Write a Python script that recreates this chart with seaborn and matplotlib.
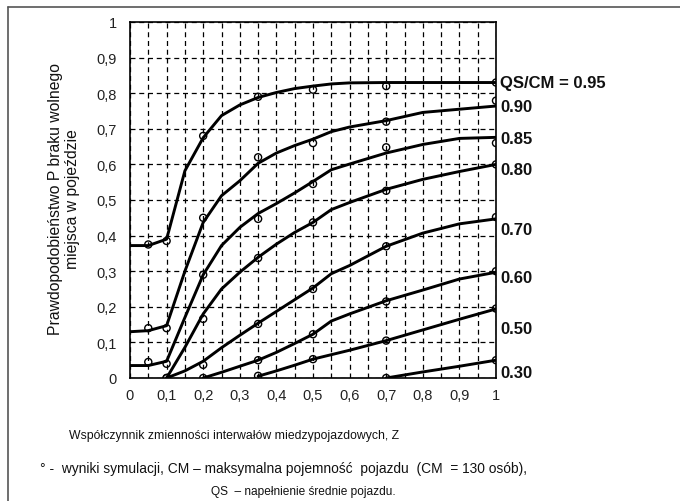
import numpy as np
import pandas as pd
import matplotlib
matplotlib.use("Agg")
import matplotlib.pyplot as plt
from matplotlib.lines import Line2D
import seaborn as sns

# ---------------- data ----------------
series_labels = ["QS/CM = 0.95", "0.90", "0.85", "0.80", "0.70", "0.60", "0.50", "0.30"]

# smoothed model curves
z_a = [0, 0.05, 0.1, 0.15, 0.2, 0.25, 0.3, 0.35, 0.4, 0.45, 0.5, 0.55, 0.6, 0.7, 0.8, 0.9, 1.0]
p95_line = [0.372, 0.372, 0.39, 0.582, 0.675, 0.737, 0.767, 0.788, 0.802, 0.813, 0.82, 0.826, 0.829, 0.83, 0.83, 0.83, 0.83]
p90_line = [0.13, 0.133, 0.147, 0.30, 0.437, 0.512, 0.554, 0.603, 0.632, 0.653, 0.671, 0.692, 0.705, 0.723, 0.746, 0.755, 0.764]
p85_line = [0.035, 0.035, 0.047, 0.17, 0.29, 0.372, 0.423, 0.462, 0.49, 0.52, 0.552, 0.585, 0.601, 0.632, 0.656, 0.673, 0.676]

z_b = [0.1, 0.15, 0.2, 0.25, 0.3, 0.35, 0.4, 0.45, 0.5, 0.55, 0.6, 0.7, 0.8, 0.9, 1.0]
p80_line = [0, 0.086, 0.18, 0.25, 0.297, 0.339, 0.376, 0.409, 0.437, 0.473, 0.493, 0.53, 0.558, 0.58, 0.60]
p70_line = [0, 0.02, 0.047, 0.085, 0.12, 0.154, 0.187, 0.22, 0.253, 0.293, 0.316, 0.37, 0.407, 0.433, 0.447]

z_c = [0.2, 0.25, 0.3, 0.35, 0.4, 0.45, 0.5, 0.55, 0.6, 0.7, 0.8, 0.9, 1.0]
p60_line = [0, 0.016, 0.033, 0.05, 0.072, 0.097, 0.123, 0.16, 0.18, 0.217, 0.247, 0.278, 0.297]

z_d = [0.35, 0.4, 0.45, 0.5, 0.6, 0.7, 0.8, 0.9, 1.0]
p50_line = [0.005, 0.02, 0.036, 0.053, 0.078, 0.105, 0.135, 0.165, 0.194]

z_e = [0.7, 0.8, 0.9, 1.0]
p30_line = [0, 0.017, 0.033, 0.05]

# simulation results (open circles)
zs_a = [0.05, 0.1, 0.2, 0.35, 0.5, 0.7, 1.0]
p95_sim = [0.375, 0.385, 0.68, 0.79, 0.81, 0.82, 0.83]
p90_sim = [0.14, 0.14, 0.45, 0.62, 0.66, 0.72, 0.779]
p85_sim = [0.045, 0.04, 0.29, 0.447, 0.545, 0.648, 0.66]
zs_b = [0.1, 0.2, 0.35, 0.5, 0.7, 1.0]
p80_sim = [0.0, 0.166, 0.337, 0.437, 0.526, 0.60]
p70_sim = [0.0, 0.037, 0.152, 0.25, 0.37, 0.452]
zs_c = [0.2, 0.35, 0.5, 0.7, 1.0]
p60_sim = [0.0, 0.05, 0.123, 0.215, 0.30]
zs_d = [0.35, 0.5, 0.7, 1.0]
p50_sim = [0.006, 0.053, 0.105, 0.195]
zs_e = [0.7, 1.0]
p30_sim = [0.0, 0.05]

x_ticks = [0, 0.1, 0.2, 0.3, 0.4, 0.5, 0.6, 0.7, 0.8, 0.9, 1]
x_ticklabels = ["0", "0,1", "0,2", "0,3", "0,4", "0,5", "0,6", "0,7", "0,8", "0,9", "1"]
y_ticks = [0, 0.1, 0.2, 0.3, 0.4, 0.5, 0.6, 0.7, 0.8, 0.9, 1]
y_ticklabels = ["0", "0,1", "0,2", "0,3", "0,4", "0,5", "0,6", "0,7", "0,8", "0,9", "1"]

ylabel = "Prawdopodobieństwo P braku wolnego\nmiejsca w pojeździe"
xlabel = "Współczynnik zmienności interwałów miedzypojazdowych, Z"
caption1 = "° -  wyniki symulacji, CM – maksymalna pojemność  pojazdu  (CM  = 130 osób),"
caption2 = "QS  – napełnienie średnie pojazdu."

lines = [(z_a, p95_line), (z_a, p90_line), (z_a, p85_line), (z_b, p80_line),
         (z_b, p70_line), (z_c, p60_line), (z_d, p50_line), (z_e, p30_line)]
sims = [(zs_a, p95_sim), (zs_a, p90_sim), (zs_a, p85_sim), (zs_b, p80_sim),
        (zs_b, p70_sim), (zs_c, p60_sim), (zs_d, p50_sim), (zs_e, p30_sim)]

line_df = pd.concat([pd.DataFrame({"Z": z, "P": p, "s": lab})
                     for (z, p), lab in zip(lines, series_labels)], ignore_index=True)
sim_df = pd.concat([pd.DataFrame({"Z": z, "P": p, "s": lab})
                    for (z, p), lab in zip(sims, series_labels)], ignore_index=True)

# ---------------- plotting ----------------
sns.set_theme(style="white")
plt.rcParams["font.family"] = ["Liberation Sans", "DejaVu Sans"]

fig = plt.figure(figsize=(6.8, 5.02), dpi=100)
fig.patch.set_facecolor("white")
ax = fig.add_axes([130 / 680, 123 / 502, 366 / 680, 356 / 502])

pal = {lab: "black" for lab in series_labels}
sns.lineplot(data=line_df, x="Z", y="P", hue="s", palette=pal, estimator=None,
             sort=False, units="s", linewidth=2.1, legend=False, ax=ax, zorder=3)
sns.scatterplot(data=sim_df, x="Z", y="P", hue="s", palette=pal, marker="o",
                s=26, facecolors="none", linewidth=1.0, legend=False, ax=ax, zorder=4)
for coll in ax.collections:
    coll.set_facecolor("none")
    coll.set_edgecolor("black")

ax.set_xlim(0, 1)
ax.set_ylim(0, 1)
ax.set_xticks(x_ticks)
ax.set_xticklabels(x_ticklabels)
ax.set_xticks(np.arange(0.05, 1.0, 0.1), minor=True)
ax.set_yticks(y_ticks)
ax.set_yticklabels(y_ticklabels)
ax.tick_params(axis="both", which="both", direction="inout", length=7, width=1,
               color="black", labelsize=10.5, labelcolor="#222222")
ax.tick_params(axis="x", pad=4)
ax.tick_params(axis="y", pad=6)
ax.grid(True, which="both", axis="x", color="black", linestyle=(0, (4, 3)), linewidth=0.9)
ax.grid(True, which="major", axis="y", color="black", linestyle=(0, (4, 3)), linewidth=0.9)
ax.set_axisbelow(True)
for sp in ax.spines.values():
    sp.set_visible(True)
    sp.set_color("black")
    sp.set_linewidth(1.2)
ax.set_xlabel("")
ax.set_ylabel("")

# curve labels at right end
label_offsets = [0, 0, -1, -4, -8, -4, -14, -9]
for (z, p), lab, off in zip(lines, series_labels, label_offsets):
    ax.annotate(lab, xy=(z[-1], p[-1]), xytext=(3, off), textcoords="offset points",
                ha="left", va="center", fontsize=12, fontweight="bold",
                color="#111111", annotation_clip=False)

fig.text(64 / 680, 1 - 199 / 502, ylabel, rotation=90, ha="center", va="center",
         fontsize=11.3, linespacing=1.2, color="#111111")

fig.text(234 / 680, 1 - 436 / 502, xlabel, ha="center", va="center",
         fontsize=8.8, color="#111111")
fig.text(283 / 680, 1 - 469 / 502, caption1, ha="center", va="center",
         fontsize=9.9, color="#111111")
fig.text(303 / 680, 1 - 492 / 502, caption2, ha="center", va="center",
         fontsize=8.6, color="#111111")

# outer frame (top and left)
fig.add_artist(Line2D([8 / 680, 1], [1 - 8 / 502, 1 - 8 / 502], color="#555555", lw=1.2,
                      transform=fig.transFigure))
fig.add_artist(Line2D([8 / 680, 8 / 680], [0, 1 - 8 / 502], color="#555555", lw=1.2,
                      transform=fig.transFigure))

fig.savefig("out.png", dpi=100)
